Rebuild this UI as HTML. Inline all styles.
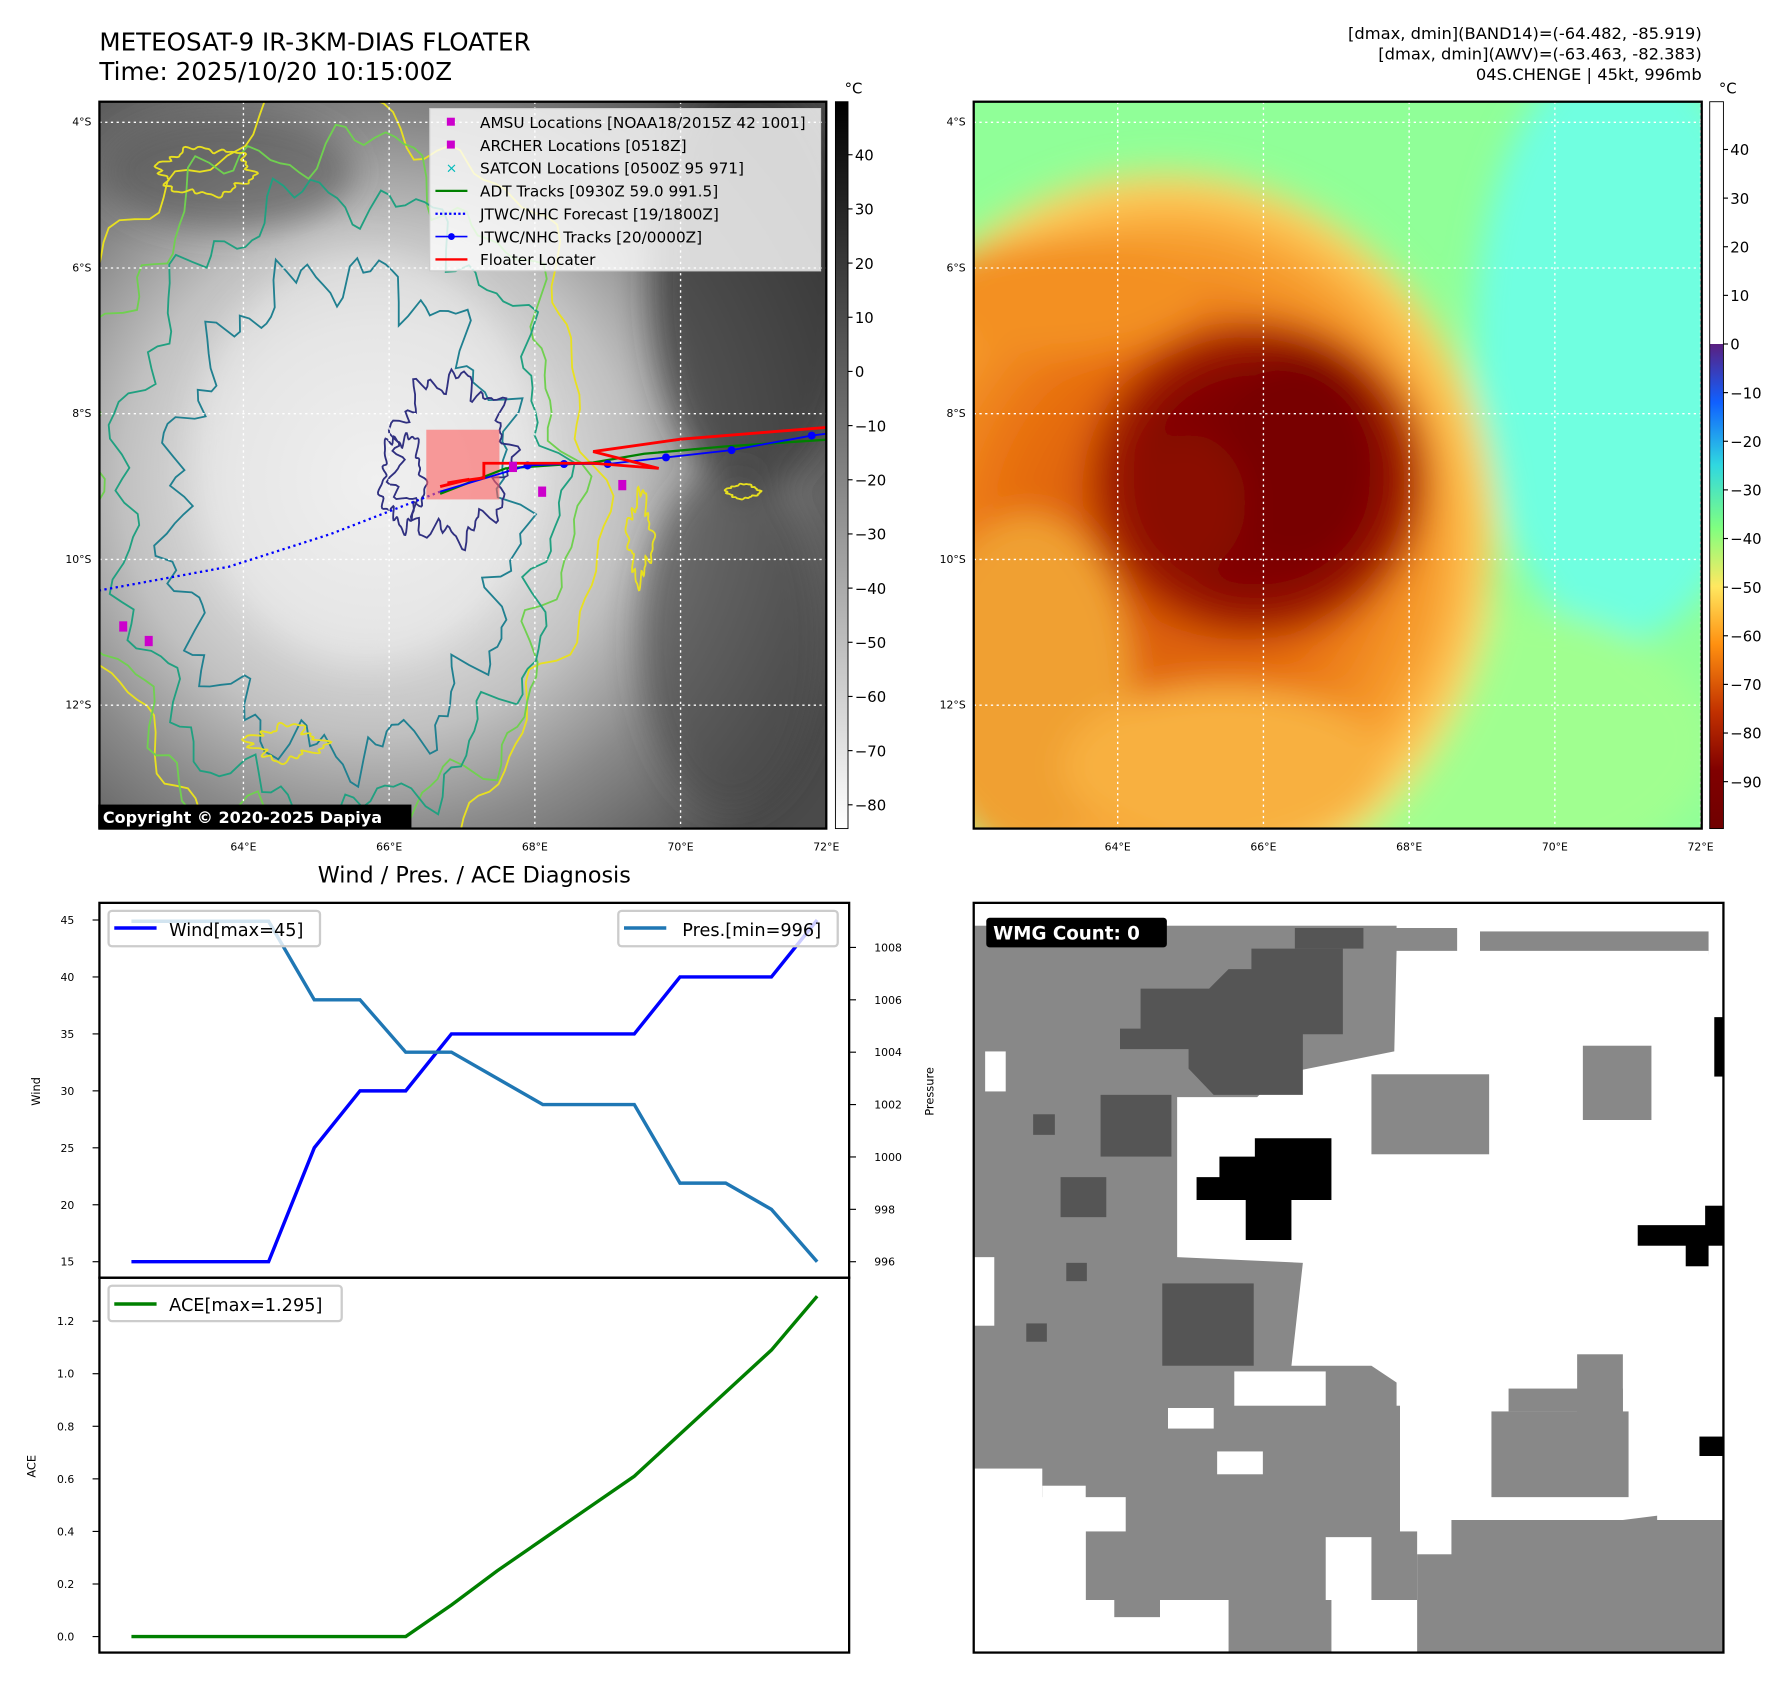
<!DOCTYPE html>
<html><head><meta charset="utf-8"><style>
html,body{margin:0;padding:0;background:#fff}
svg{display:block;font-family:"DejaVu Sans","Liberation Sans",sans-serif}
</style></head><body>
<svg id="root" width="1792" height="1690" viewBox="0 0 1568 1478.75" xmlns="http://www.w3.org/2000/svg">
<defs>
<radialGradient id="irGray" cx="0.38" cy="0.52" r="0.7">
<stop offset="0" stop-color="#f2f2f2"/><stop offset="0.3" stop-color="#dedede"/><stop offset="0.5" stop-color="#c0c0c0"/><stop offset="0.7" stop-color="#8a8a8a"/><stop offset="1" stop-color="#4a4a4a"/>
</radialGradient>
<radialGradient id="orange" cx="0.5" cy="0.5" r="0.5">
<stop offset="0" stop-color="#d05000"/><stop offset="0.5" stop-color="#e87010"/><stop offset="0.8" stop-color="#f8a030"/><stop offset="0.93" stop-color="#ffd060"/><stop offset="1" stop-color="#ffe070" stop-opacity="0"/>
</radialGradient>
<radialGradient id="core" cx="0.5" cy="0.5" r="0.5">
<stop offset="0" stop-color="#7a0000"/><stop offset="0.6" stop-color="#800000"/><stop offset="0.85" stop-color="#a82400"/><stop offset="1" stop-color="#c84800" stop-opacity="0"/>
</radialGradient>
<linearGradient id="cbGray" x1="0" y1="0" x2="0" y2="1"><stop offset="0" stop-color="#000"/><stop offset="1" stop-color="#fff"/></linearGradient>
<linearGradient id="cbCol" x1="0" y1="0" x2="0" y2="1">
<stop offset="0" stop-color="#5a2080"/><stop offset="0.12" stop-color="#1060ff"/><stop offset="0.25" stop-color="#30d8e0"/><stop offset="0.38" stop-color="#80ff80"/><stop offset="0.5" stop-color="#ffe860"/><stop offset="0.62" stop-color="#ff9010"/><stop offset="0.76" stop-color="#c03000"/><stop offset="0.88" stop-color="#800000"/><stop offset="1" stop-color="#700000"/>
</linearGradient>
<filter id="blur8"><feGaussianBlur stdDeviation="14"/></filter>
<clipPath id="clipL"><rect x="87" y="89" width="636" height="636"/></clipPath>
<clipPath id="clipR"><rect x="852" y="89" width="637" height="636"/></clipPath>
</defs>

<text x="87" y="44" font-size="21.5">METEOSAT-9 IR-3KM-DIAS FLOATER</text>
<text x="87" y="70" font-size="21.5">Time: 2025/10/20 10:15:00Z</text>
<g font-size="14.3" text-anchor="end">
<text x="1489" y="34">[dmax, dmin](BAND14)=(-64.482, -85.919)</text>
<text x="1489" y="52">[dmax, dmin](AWV)=(-63.463, -82.383)</text>
<text x="1489" y="70">04S.CHENGE | 45kt, 996mb</text>
</g>

<!-- left IR map -->
<g clip-path="url(#clipL)">
<rect x="87" y="89" width="636" height="636" fill="#6a6a6a"/>
<rect x="87" y="89" width="636" height="636" fill="url(#irGray)"/>
<g filter="url(#blur8)">
<ellipse cx="200" cy="150" rx="110" ry="50" fill="#555" opacity="0.6"/>
<ellipse cx="660" cy="250" rx="90" ry="180" fill="#333" opacity="0.7"/>
<ellipse cx="640" cy="560" rx="80" ry="150" fill="#444" opacity="0.6"/>
<ellipse cx="320" cy="400" rx="150" ry="180" fill="#eee" opacity="0.5"/>
</g>
<g id="contours" fill="none" stroke-width="1.6"></g>
<g id="grid-l" stroke="#fff" stroke-dasharray="2,3" stroke-width="1.2"></g>
<g id="tracks"></g>
</g>
<rect x="87" y="89" width="636" height="636" fill="none" stroke="#000" stroke-width="2"/>
<g font-size="13.4">
<rect x="376" y="95" width="342" height="142" fill="#fff" fill-opacity="0.8" stroke="#ccc"/>
<rect x="391" y="103" width="7" height="7" fill="#c0c"/><text x="420" y="112">AMSU Locations [NOAA18/2015Z 42 1001]</text>
<rect x="391" y="123" width="7" height="7" fill="#c0c"/><text x="420" y="132">ARCHER Locations [0518Z]</text>
<text x="390" y="151" fill="#0bb" font-size="12">×</text><text x="420" y="152">SATCON Locations [0500Z 95 971]</text>
<line x1="381" y1="167" x2="409" y2="167" stroke="green" stroke-width="2"/><text x="420" y="172">ADT Tracks [0930Z 59.0 991.5]</text>
<line x1="381" y1="187" x2="409" y2="187" stroke="blue" stroke-width="2" stroke-dasharray="2,2"/><text x="420" y="192">JTWC/NHC Forecast [19/1800Z]</text>
<line x1="381" y1="207" x2="409" y2="207" stroke="blue" stroke-width="1.5"/><circle cx="395" cy="207" r="3" fill="blue"/><text x="420" y="212">JTWC/NHC Tracks [20/0000Z]</text>
<line x1="381" y1="227" x2="409" y2="227" stroke="red" stroke-width="2"/><text x="420" y="232">Floater Locater</text>
</g>
<g><rect x="86" y="704" width="274" height="21" fill="#000"/><text x="90" y="720" fill="#fff" font-size="14" font-weight="bold">Copyright © 2020-2025 Dapiya</text></g>

<!-- right colour map -->
<g clip-path="url(#clipR)">
<rect x="852" y="89" width="637" height="636" fill="#90ff98"/>
<g filter="url(#blur8)">
<ellipse cx="1420" cy="300" rx="130" ry="260" fill="#70ffe0"/>
<ellipse cx="1300" cy="650" rx="200" ry="120" fill="#a0ff90"/>
<ellipse cx="1020" cy="470" rx="300" ry="330" fill="url(#orange)"/>
<ellipse cx="900" cy="600" rx="90" ry="150" fill="#f0a030"/>
<ellipse cx="930" cy="260" rx="120" ry="50" fill="#f39020"/>
<ellipse cx="1070" cy="670" rx="140" ry="70" fill="#f8b040"/>
<ellipse cx="1100" cy="420" rx="160" ry="150" fill="url(#core)"/>
<ellipse cx="1135" cy="400" rx="70" ry="90" fill="#780000"/>
<ellipse cx="1040" cy="440" rx="50" ry="60" fill="#8a0800"/>
</g>
<g id="grid-r" stroke="#fff" stroke-dasharray="2,3" stroke-width="1.2"></g>
</g>
<rect x="852" y="89" width="637" height="636" fill="none" stroke="#000" stroke-width="2"/>

<!-- colorbars -->
<g>
<rect x="731" y="89" width="11" height="636" fill="url(#cbGray)" stroke="#000" stroke-width="0.8"/>
<text x="739" y="82" font-size="13">°C</text><g id="cbl" font-size="13"></g></g>
<g>
<rect x="1496" y="89" width="12" height="212" fill="#fff"/>
<rect x="1496" y="301" width="12" height="424" fill="url(#cbCol)"/>
<rect x="1496" y="89" width="12" height="636" fill="none" stroke="#000" stroke-width="0.8"/>
<text x="1504" y="82" font-size="13">°C</text><g id="cbr" font-size="13"></g></g>
<g id="maplabels" font-size="9.5"></g>

<!-- diagnosis chart -->
<text x="415" y="772" font-size="19.5" text-anchor="middle">Wind / Pres. / ACE Diagnosis</text>
<g id="chart"></g>
<rect x="87" y="790" width="656" height="328" fill="none" stroke="#000" stroke-width="2"/>
<rect x="87" y="1118" width="656" height="328" fill="none" stroke="#000" stroke-width="2"/>
<g font-size="15.5">
<g><rect x="95" y="797" width="185" height="31" rx="3" fill="#fff" fill-opacity="0.8" stroke="#ccc" stroke-width="2"/><line x1="100" y1="812" x2="137" y2="812" stroke="blue" stroke-width="3"/><text x="148" y="819">Wind[max=45]</text></g>
<g><rect x="541" y="797" width="192" height="31" rx="3" fill="#fff" fill-opacity="0.8" stroke="#ccc" stroke-width="2"/><line x1="546" y1="812" x2="583" y2="812" stroke="#1f77b4" stroke-width="3"/><text x="597" y="819">Pres.[min=996]</text></g>
<g><rect x="95" y="1125" width="204" height="31" rx="3" fill="#fff" fill-opacity="0.8" stroke="#ccc" stroke-width="2"/><line x1="100" y1="1141" x2="137" y2="1141" stroke="green" stroke-width="3"/><text x="148" y="1147">ACE[max=1.295]</text></g>
</g>
<text transform="translate(35,955) rotate(-90)" font-size="10" text-anchor="middle">Wind</text>
<text transform="translate(817,955) rotate(-90)" font-size="10" text-anchor="middle">Pressure</text>
<text transform="translate(31,1283) rotate(-90)" font-size="10" text-anchor="middle">ACE</text>

<!-- WMG panel -->
<g>
<rect x="852" y="790" width="656" height="656" fill="#fff"/>
<g fill="#888">
<rect x="852" y="810" width="370" height="500"/>
<rect x="1220" y="812" width="55" height="25"/><rect x="1295" y="815" width="200" height="20"/><rect x="1335" y="835" width="45" height="50"/><rect x="1460" y="830" width="16" height="20"/>
<rect x="1100" y="1105" width="100" height="95"/><rect x="1175" y="1125" width="40" height="20"/>
<rect x="985" y="1230" width="240" height="170"/><rect x="950" y="1340" width="290" height="60"/><rect x="975" y="1395" width="40" height="20"/>
<rect x="1075" y="1380" width="90" height="66"/><rect x="1240" y="1360" width="70" height="86"/><rect x="1270" y="1330" width="238" height="116"/>
<rect x="1390" y="1310" width="60" height="30"/>
</g>
<g fill="#fff">
<polygon points="1222,832 1495,832 1495,900 1500,1320 1420,1330 1305,1330 1300,1260 1240,1240 1230,1215 1200,1195 1130,1195 1140,1105 1030,1100 1030,960 1100,960 1120,940 1220,920"/>
<rect x="852" y="1100" width="18" height="60"/><rect x="862" y="920" width="18" height="35"/>
<rect x="1022" y="1232" width="40" height="18"/><rect x="1065" y="1270" width="40" height="20"/>
<rect x="852" y="1285" width="60" height="161"/><rect x="912" y="1300" width="38" height="146"/>
<rect x="1015" y="1415" width="55" height="31"/><rect x="1160" y="1345" width="40" height="55"/>
<rect x="1080" y="1200" width="80" height="30"/>
</g>
<g fill="#888"><rect x="1200" y="940" width="103" height="70"/><rect x="1385" y="915" width="60" height="65"/><rect x="1305" y="1235" width="120" height="75"/><rect x="1380" y="1185" width="40" height="60"/><rect x="1320" y="1215" width="100" height="20"/></g>
<g fill="#555">
<polygon points="998,865 1058,865 1075,848 1095,848 1095,830 1175,830 1175,905 1140,905 1140,958 1062,958 1040,935 1040,918 980,918 980,900 998,900"/>
<rect x="963" y="958" width="62" height="54"/><rect x="1017" y="1123" width="80" height="72"/><rect x="1133" y="812" width="60" height="18"/>
<rect x="904" y="975" width="19" height="18"/><rect x="928" y="1030" width="40" height="35"/><rect x="933" y="1105" width="18" height="16"/><rect x="898" y="1158" width="18" height="16"/>
</g>
<g fill="#000">
<polygon points="1047,1030 1067,1030 1067,1012 1098,1012 1098,996 1165,996 1165,1050 1130,1050 1130,1085 1090,1085 1090,1050 1047,1050"/>
<rect x="1433" y="1072" width="75" height="18"/><rect x="1492" y="1055" width="16" height="20"/><rect x="1475" y="1088" width="20" height="20"/>
<rect x="1500" y="890" width="8" height="52"/><rect x="1487" y="1257" width="21" height="17"/>
</g>
<rect x="852" y="790" width="656" height="656" fill="none" stroke="#000" stroke-width="2"/>
</g>
<g><rect x="863" y="803" width="158" height="26" rx="3" fill="#000"/><text x="869" y="822" fill="#fff" font-size="16" font-weight="bold">WMG Count: 0</text></g>

<script>
// ---------- chart data ----------
const steps = [0,1,2,3,4,5,6,7,8,9,10,11,12,13,14,15];
const windKt = [15,15,15,15,25,30,30,35,35,35,35,35,40,40,40,45];
const presMb = [1009,1009,1009,1009,1006,1006,1004,1004,1003,1002,1002,1002,999,999,998,996];
const aceVal = [0,0,0,0,0,0,0,0.12,0.25,0.37,0.49,0.61,0.77,0.93,1.09,1.295];
const windTicks = [15,20,25,30,35,40,45];
const presTicks = [996,998,1000,1002,1004,1006,1008];
const aceTicks = [0,0.2,0.4,0.6,0.8,1.0,1.2];
// ---------- map track data (lon, lat) ----------
const jtwcLon = [72.2,71.8,70.7,69.8,69.0,68.4,67.9,66.7];
const jtwcLat = [-8.25,-8.30,-8.50,-8.60,-8.69,-8.69,-8.71,-9.07];
const fcstLon = [66.7,65.2,63.8,62.0];
const fcstLat = [-9.07,-9.65,-10.1,-10.43];
const adtLon = [72.1,70.6,69.5,68.8,67.6,66.7];
const adtLat = [-8.35,-8.45,-8.55,-8.67,-8.75,-9.1];
const floatLon = [72.1,70.0,68.8,69.7,68.8,67.3,67.3,66.8,67.1,66.7];
const floatLat = [-8.18,-8.35,-8.52,-8.75,-8.68,-8.68,-8.88,-8.95,-8.9,-9.0];
const amsuLon = [67.7,68.1,69.2,62.35,62.7];
const amsuLat = [-8.73,-9.07,-8.98,-10.92,-11.12];
const lonTicks = [64,66,68,70,72];
const latTicks = [-4,-6,-8,-10,-12];
const cbGrayTicks = [40,30,20,10,0,-10,-20,-30,-40,-50,-60,-70,-80];
const cbColTicks = [40,30,20,10,0,-10,-20,-30,-40,-50,-60,-70,-80,-90];

const NS='http://www.w3.org/2000/svg';
function mk(tag, attrs, parent){const e=document.createElementNS(NS,tag);for(const k in attrs)e.setAttribute(k,attrs[k]);parent.appendChild(e);return e;}
const px = i => 115 + (i)*40;
const yW = v => 1104 - (v-15)*(299/30);
const yP = v => 1104 - (v-996)*(275/12);
const yA = v => 1432 - v*(276/1.2);
const chart=document.getElementById('chart');
function ptsOf(arr,f){return arr.map((v,i)=>px(steps[i])+','+f(v)).join(' ');}
windTicks.forEach(t=>{const g=mk('g',{},chart);


mk('line',{x1:81,x2:87,y1:yW(t),y2:yW(t),stroke:'#000'},g);
const tx=mk('text',{x:65,y:yW(t)+3.5,'font-size':'9.5','text-anchor':'end'},g);tx.textContent=t;});
presTicks.forEach(t=>{const g=mk('g',{},chart);


mk('line',{x1:743,x2:749,y1:yP(t),y2:yP(t),stroke:'#000'},g);
const tx=mk('text',{x:765,y:yP(t)+3.5,'font-size':'9.5'},g);tx.textContent=t;});
aceTicks.forEach(t=>{const g=mk('g',{},chart);


mk('line',{x1:81,x2:87,y1:yA(t),y2:yA(t),stroke:'#000'},g);
const tx=mk('text',{x:65,y:yA(t)+3.5,'font-size':'9.5','text-anchor':'end'},g);tx.textContent=t.toFixed(1);});
let l=mk('polyline',{points:ptsOf(windKt,yW),fill:'none',stroke:'blue','stroke-width':3},chart);


l=mk('polyline',{points:ptsOf(presMb,yP),fill:'none',stroke:'#1f77b4','stroke-width':3},chart);


l=mk('polyline',{points:ptsOf(aceVal,yA),fill:'none',stroke:'green','stroke-width':3},chart);



// ---------- maps ----------
const mxL = lon => 213 + (lon-64)*63.75;
const mxR = lon => 978 + (lon-64)*63.75;
const my = lat => 107 + (-4-lat)*63.75;
const gl=document.getElementById('grid-l'), gr=document.getElementById('grid-r'), ml=document.getElementById('maplabels');
lonTicks.forEach(lo=>{mk('line',{x1:mxL(lo),x2:mxL(lo),y1:89,y2:725},gl);mk('line',{x1:mxR(lo),x2:mxR(lo),y1:89,y2:725},gr);
[mxL(lo),mxR(lo)].forEach(x=>{const t=mk('text',{x:x,y:744,'text-anchor':'middle'},ml);


t.textContent=lo+'°E';});});
latTicks.forEach(la=>{mk('line',{x1:87,x2:723,y1:my(la),y2:my(la)},gl);mk('line',{x1:852,x2:1489,y1:my(la),y2:my(la)},gr);
[[80,'l'],[845,'r']].forEach(([x])=>{const t=mk('text',{x:x,y:my(la)+3,'text-anchor':'end'},ml);


t.textContent=(-la)+'°S';});});
const cbl=document.getElementById('cbl'), cbr=document.getElementById('cbr');
cbGrayTicks.forEach(v=>{const y=325-v*4.74;mk('line',{x1:742,x2:746,y1:y,y2:y,stroke:'#000'},cbl);const t=mk('text',{x:748,y:y+5},cbl);t.textContent=v<0?'\u2212'+(-v):v;});
cbColTicks.forEach(v=>{const y=301-v*4.255;mk('line',{x1:1508,x2:1512,y1:y,y2:y,stroke:'#000'},cbr);const t=mk('text',{x:1514,y:y+5},cbr);t.textContent=v<0?'\u2212'+(-v):v;});

// decorative contours
const cg=document.getElementById('contours');
function blob(cx,cy,rx,ry,amp,f,ph,col){let d='';for(let i=0;i<=160;i++){const a=i/160*Math.PI*2;const r=1+amp*Math.sin(a*f+ph)+amp*0.6*Math.sin(a*(f*2+3)+ph*2)+amp*0.4*Math.sin(a*(f*3+7)+ph*3);d+=(i?'L':'M')+(cx+rx*r*Math.cos(a)).toFixed(1)+','+(cy+ry*r*Math.sin(a)).toFixed(1);}
mk('path',{d:d+'Z',stroke:col},cg);}
blob(290,420,230,330,0.05,7,0.3,'#e8e020');
blob(285,430,212,305,0.06,9,1.1,'#70d050');
blob(295,440,190,270,0.06,11,2.1,'#20a080');
blob(300,450,150,210,0.08,13,0.7,'#208090');
blob(395,400,50,68,0.12,9,1.7,'#303080');
blob(352,420,18,38,0.15,5,0.4,'#303080');
blob(180,150,40,20,0.1,6,0.2,'#e8e020');
blob(560,470,10,35,0.2,4,0.9,'#e8e020');
blob(650,430,14,6,0.1,4,0.9,'#e8e020');
blob(250,650,30,14,0.2,4,0.9,'#e8e020');

const tr=document.getElementById('tracks');
const P=(lo,la)=>lo.map((v,i)=>mxL(v)+','+my(la[i])).join(' ');
l=mk('polyline',{points:P(fcstLon,fcstLat),fill:'none',stroke:'blue','stroke-width':2,'stroke-dasharray':'2,3'},tr);


mk('rect',{x:373,y:376,width:64,height:61,fill:'#ff6060','fill-opacity':0.6},tr);
l=mk('polyline',{points:P(adtLon,adtLat),fill:'none',stroke:'green','stroke-width':2},tr);


l=mk('polyline',{points:P(jtwcLon,jtwcLat),fill:'none',stroke:'blue','stroke-width':1.6},tr);


jtwcLon.forEach((lo,i)=>{if(i>0&&i<7){const c=mk('circle',{cx:mxL(lo),cy:my(jtwcLat[i]),r:3.5,fill:'blue'},tr);

}});
l=mk('polyline',{points:P(floatLon,floatLat),fill:'none',stroke:'red','stroke-width':2.5},tr);


amsuLon.forEach((lo,i)=>{const r=mk('rect',{x:mxL(lo)-3.5,y:my(amsuLat[i])-4.5,width:7,height:9,fill:'#c0c'},tr);

});
</script>
</svg>
</body></html>
